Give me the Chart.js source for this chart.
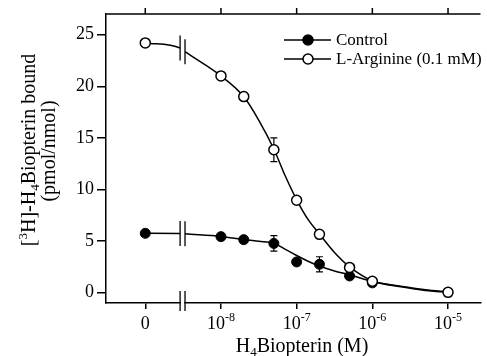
<!DOCTYPE html>
<html>
<head>
<meta charset="utf-8">
<script src="https://cdn.jsdelivr.net/npm/chart.js@4.4.1/dist/chart.umd.min.js"></script>
<style>
  html, body { margin: 0; padding: 0; background: #fff; }
  #wrap { width: 487px; height: 356px; }
</style>
</head>
<body>
<div id="wrap"><canvas id="c"></canvas></div>
<script>
// ── Data ─────────────────────────────────────────────────────
const CONC_ARG   = [0, 1e-8, 2e-8, 5e-8, 1e-7, 2e-7, 5e-7, 1e-6, 1e-5];
const ARG_BOUND  = [24.2, 21.0, 19.0, 13.85, 8.95, 5.65, 2.45, 1.1, 0.03];
const ARG_ERR    = [0, 0, 0, 1.15, 0, 0, 0, 0, 0];

const CONC_CTRL  = [0, 1e-8, 2e-8, 5e-8, 1e-7, 2e-7, 5e-7, 1e-6];
const CTRL_BOUND = [5.75, 5.43, 5.14, 4.77, 2.98, 2.75, 1.62, 0.95];
const CTRL_ERR   = [0, 0, 0, 0.75, 0, 0.73, 0, 0];

// fitted curves, read at these axis positions (log10 M; "0" sits at -9)
const FIT_POS  = [-9, -8.54, -8.475, -8, -7.7, -7.5, -7.3, -7.15, -7, -6.85, -6.7, -6.5, -6.3, -6, -5.6, -5.3, -5];
const ARG_FIT  = [24.2, 23.7, 23.35, 21.0, 19.0, 16.7, 13.9, 11.3, 9.0, 7.1, 5.7, 3.9, 2.5, 1.15, 0.55, 0.22, 0.05];
const CTRL_FIT = [5.75, 5.74, 5.7, 5.45, 5.15, 4.98, 4.8, 4.2, 3.6, 3.05, 2.58, 2.1, 1.74, 1.08, 0.6, 0.28, 0.08];

const X_TICKS       = [-9, -8, -7, -6, -5];
const X_TICK_LABELS = [['0', ''], ['10', '-8'], ['10', '-7'], ['10', '-6'], ['10', '-5']];
const Y_TICKS       = [0, 5, 10, 15, 20, 25];

const ZERO_POS  = -9;     // where concentration 0 is placed
const BREAK_MID = -8.5;   // axis break between 0 and 10^-8

const FONT = "'Liberation Serif', 'Times New Roman', serif";

function pos(c) { return c === 0 ? ZERO_POS : Math.log10(c); }
const pts = (xs, ys) => xs.map((c, i) => ({ x: pos(c), y: ys[i] }));
const fit = ys => FIT_POS.map((p, i) => ({ x: p, y: ys[i] }));

// ── text helper: runs of [text, size, dy] ───────────────────
function runs(ctx, parts, cx, baseY) {
  let w = 0;
  parts.forEach(([t, s]) => { ctx.font = s + 'px ' + FONT; w += ctx.measureText(t).width; });
  let x = cx - w / 2;
  parts.forEach(([t, s, dy]) => {
    ctx.font = s + 'px ' + FONT;
    ctx.fillText(t, x, baseY + dy);
    x += ctx.measureText(t).width;
  });
}

// ── error bars, under the markers ───────────────────────────
const errorBars = {
  id: 'errorBars',
  beforeDatasetsDraw(chart) {
    const { ctx, scales: { x, y } } = chart;
    ctx.save();
    ctx.strokeStyle = '#000';
    ctx.lineWidth = 1.2;
    [[CONC_ARG, ARG_BOUND, ARG_ERR], [CONC_CTRL, CTRL_BOUND, CTRL_ERR]].forEach(([cs, ys, es]) => {
      cs.forEach((c, i) => {
        if (!es[i]) return;
        const px = x.getPixelForValue(pos(c));
        const t = y.getPixelForValue(ys[i] + es[i]);
        const b = y.getPixelForValue(ys[i] - es[i]);
        ctx.beginPath();
        ctx.moveTo(px, t); ctx.lineTo(px, b);
        ctx.moveTo(px - 3.5, t); ctx.lineTo(px + 3.5, t);
        ctx.moveTo(px - 3.5, b); ctx.lineTo(px + 3.5, b);
        ctx.stroke();
      });
    });
    ctx.restore();
  }
};

// ── frame: top axis, breaks, tick labels, titles, legend ────
const frame = {
  id: 'frame',
  afterDraw(chart) {
    const { ctx, chartArea: a, scales: { x, y } } = chart;
    ctx.save();
    ctx.strokeStyle = '#000';
    ctx.fillStyle = '#000';
    ctx.lineWidth = 1.5;

    // top border with outward ticks
    ctx.beginPath();
    ctx.moveTo(a.left, a.top); ctx.lineTo(a.right, a.top);
    X_TICKS.forEach(t => {
      const px = x.getPixelForValue(t);
      ctx.moveTo(px, a.top); ctx.lineTo(px, a.top - 6);
    });
    ctx.stroke();

    // axis break
    const bl = x.getPixelForValue(FIT_POS[1]);
    const br = x.getPixelForValue(FIT_POS[2]);
    ctx.fillStyle = '#fff';
    ctx.fillRect(bl + 0.8, a.bottom - 3, br - bl - 1.6, 6);
    ctx.fillStyle = '#000';
    ctx.lineWidth = 1.3;
    ctx.beginPath();
    ctx.moveTo(bl, a.bottom - 12); ctx.lineTo(bl, a.bottom + 8);
    ctx.moveTo(br, a.bottom - 12); ctx.lineTo(br, a.bottom + 8);
    [ARG_FIT, CTRL_FIT].forEach(f => {
      const yl = y.getPixelForValue(f[1]);
      const yr = y.getPixelForValue(f[2]);
      ctx.moveTo(bl, yl - 12.5); ctx.lineTo(bl, yl + 12.5);
      ctx.moveTo(br, yr - 12.5); ctx.lineTo(br, yr + 12.5);
    });
    ctx.stroke();

    // x tick labels with superscript exponents
    ctx.textAlign = 'left';
    ctx.textBaseline = 'alphabetic';
    X_TICKS.forEach((t, i) => {
      const [base, exp] = X_TICK_LABELS[i];
      runs(ctx, [[base, 18, 0], [exp, 12, -8]], x.getPixelForValue(t), 329);
    });

    // x title
    runs(ctx, [['H', 20, 0], ['4', 13, 4], ['Biopterin (M)', 20, 0]], 302, 352);

    // y title, two rotated lines
    ctx.save();
    ctx.translate(35, 150);
    ctx.rotate(-Math.PI / 2);
    runs(ctx, [['[', 20, 0], ['3', 13, -8], ['H]-H', 20, 0], ['4', 13, 4], ['Biopterin bound', 20, 0]], 0, 0);
    ctx.restore();
    ctx.save();
    ctx.translate(55, 151);
    ctx.rotate(-Math.PI / 2);
    runs(ctx, [['(pmol/nmol)', 20, 0]], 0, 0);
    ctx.restore();

    // legend
    const rows = [
      { label: chart.data.datasets[1].label, fill: '#000', y: 40 },
      { label: chart.data.datasets[0].label, fill: '#fff', y: 59 }
    ];
    ctx.font = '17px ' + FONT;
    ctx.textBaseline = 'middle';
    rows.forEach(r => {
      ctx.lineWidth = 1.5;
      ctx.beginPath();
      ctx.moveTo(284, r.y); ctx.lineTo(331, r.y);
      ctx.stroke();
      ctx.beginPath();
      ctx.arc(308, r.y, 5, 0, Math.PI * 2);
      ctx.fillStyle = r.fill;
      ctx.fill();
      ctx.stroke();
      ctx.fillStyle = '#000';
      ctx.fillText(r.label, 336, r.y + 1);
    });
    ctx.restore();
  }
};

const gapSegment = {
  borderColor: c => (c.p0.parsed.x < BREAK_MID && c.p1.parsed.x > BREAK_MID) ? 'rgba(0,0,0,0)' : '#000'
};

new Chart(document.getElementById('c'), {
  type: 'line',
  data: {
    datasets: [
      {
        label: 'L-Arginine (0.1 mM)',
        data: pts(CONC_ARG, ARG_BOUND),
        showLine: false,
        pointRadius: 5,
        pointBackgroundColor: '#fff',
        pointBorderColor: '#000',
        pointBorderWidth: 1.5,
        order: 1
      },
      {
        label: 'Control',
        data: pts(CONC_CTRL, CTRL_BOUND),
        showLine: false,
        pointRadius: 5,
        pointBackgroundColor: '#000',
        pointBorderColor: '#000',
        pointBorderWidth: 1,
        order: 2
      },
      {
        label: 'L-Arginine fit',
        data: fit(ARG_FIT),
        borderColor: '#000',
        borderWidth: 1.5,
        pointRadius: 0,
        cubicInterpolationMode: 'monotone',
        segment: gapSegment,
        order: 3
      },
      {
        label: 'Control fit',
        data: fit(CTRL_FIT),
        borderColor: '#000',
        borderWidth: 1.5,
        pointRadius: 0,
        cubicInterpolationMode: 'monotone',
        segment: gapSegment,
        order: 4
      }
    ]
  },
  options: {
    responsive: true,
    maintainAspectRatio: false,
    animation: false,
    events: [],
    layout: { padding: { top: 14, right: 0, left: 0, bottom: 0 } },
    plugins: { legend: { display: false }, tooltip: { enabled: false } },
    scales: {
      x: {
        type: 'linear',
        min: -9.519,
        max: -4.571,
        afterBuildTicks: s => { s.ticks = X_TICKS.map(v => ({ value: v })); },
        afterFit: s => { s.height = 53; },
        ticks: { display: false },
        grid: { drawOnChartArea: false, drawTicks: true, tickLength: 6, color: '#000', lineWidth: 1.5 },
        border: { display: true, color: '#000', width: 1.5 }
      },
      y: {
        type: 'linear',
        min: -1,
        max: 27,
        afterBuildTicks: s => { s.ticks = Y_TICKS.map(v => ({ value: v })); },
        afterFit: s => { s.width = 106; },
        ticks: { color: '#000', padding: 3, font: { family: FONT, size: 18 } },
        grid: { drawOnChartArea: false, drawTicks: true, tickLength: 9, color: '#000', lineWidth: 1.5 },
        border: { display: true, color: '#000', width: 1.5 }
      }
    }
  },
  plugins: [errorBars, frame]
});
</script>
</body>
</html>
